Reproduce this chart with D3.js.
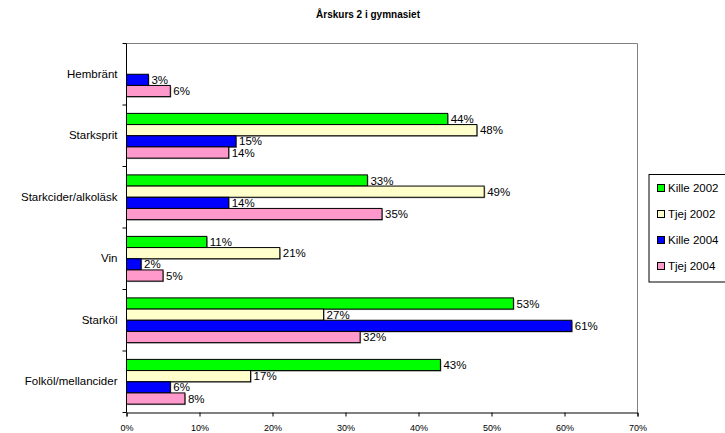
<!DOCTYPE html>
<html>
<head>
<meta charset="utf-8">
<script src="https://cdn.jsdelivr.net/npm/d3@7"></script>
<style>
  body { margin: 0; background: #fff; }
  svg { display: block; font-family: Arial, "Liberation Sans", sans-serif; }
</style>
</head>
<body>
<svg id="chart" width="725" height="433"></svg>
<script>
const title = "Årskurs 2 i gymnasiet";
const categories = ["Hembränt", "Starksprit", "Starkcider/alkoläsk", "Vin", "Starköl", "Folköl/mellancider"];
const seriesNames = ["Kille 2002", "Tjej 2002", "Kille 2004", "Tjej 2004"];
const seriesColors = ["#00FF00", "#FFFFCC", "#0000FF", "#FF99CC"];
// values in percent, per category (null = no bar)
const kille2002 = [null, 44, 33, 11, 53, 43];
const tjej2002  = [null, 48, 49, 21, 27, 17];
const kille2004 = [3, 15, 14, 2, 61, 6];
const tjej2004  = [6, 14, 35, 5, 32, 8];
const xTicks = [0, 10, 20, 30, 40, 50, 60, 70];

const series = [kille2002, tjej2002, kille2004, tjej2004];

const svg = d3.select("#chart");
const pLeft = 126.5, pRight = 637.5, pTop = 43.5, pBottom = 412.5;

const x = d3.scaleLinear().domain([0, 70]).range([pLeft, pRight]);
const y = d3.scaleBand().domain(categories).range([pTop, pBottom]).padding(0);
const bw = y.bandwidth() / 5.5;
const yi = d3.scaleBand().domain(seriesNames).range([0.75 * bw, 4.75 * bw]).padding(0);

// title
svg.append("text")
  .attr("x", 368).attr("y", 18)
  .attr("text-anchor", "middle")
  .attr("font-size", "10px").attr("font-weight", "bold")
  .text(title);

// plot area border (top, right)
svg.append("path")
  .attr("d", `M${pLeft},${pTop}H${pRight}V${pBottom}`)
  .attr("fill", "none").attr("stroke", "#808080").attr("stroke-width", 1);

// bars
const rows = [];
categories.forEach((c, ci) => {
  series.forEach((s, si) => {
    if (s[ci] != null) rows.push({ cat: c, name: seriesNames[si], color: seriesColors[si], v: s[ci] });
  });
});

const g = svg.append("g");
// shadows
g.selectAll("rect.sh").data(rows).enter().append("rect")
  .attr("class", "sh")
  .attr("x", x(0) + 1)
  .attr("y", d => y(d.cat) + yi(d.name) + 1)
  .attr("width", d => x(d.v) - x(0))
  .attr("height", yi.bandwidth())
  .attr("fill", "#9a9a9a");
g.selectAll("rect.bar").data(rows).enter().append("rect")
  .attr("class", "bar")
  .attr("x", x(0))
  .attr("y", d => y(d.cat) + yi(d.name))
  .attr("width", d => x(d.v) - x(0))
  .attr("height", yi.bandwidth())
  .attr("fill", d => d.color)
  .attr("stroke", "#000").attr("stroke-width", 1);

g.selectAll("text.lbl").data(rows).enter().append("text")
  .attr("class", "lbl")
  .attr("x", d => x(d.v) + 3)
  .attr("y", d => y(d.cat) + yi(d.name) + yi.bandwidth() / 2)
  .attr("dy", "0.36em")
  .attr("font-size", "11.5px").attr("fill", "#000")
  .text(d => d.v + "%");

// x axis
const xAxis = d3.axisBottom(x).tickValues(xTicks).tickFormat(d => d + "%").tickSize(4).tickPadding(8);
const xg = svg.append("g").attr("transform", `translate(0,${pBottom})`).call(xAxis);
xg.select(".domain").attr("stroke", "#000");
xg.selectAll("text").attr("font-size", "9px").attr("font-family", "Arial, 'Liberation Sans', sans-serif");

// y axis
const yAxis = d3.axisLeft(y).tickSize(0).tickPadding(9);
const yg = svg.append("g").attr("transform", `translate(${pLeft},0)`).call(yAxis);
yg.select(".domain").attr("stroke", "#000").attr("d", `M0,${pTop}V${pBottom}`);
yg.selectAll("text").attr("font-size", "11.5px").attr("font-family", "Arial, 'Liberation Sans', sans-serif");
// category separator ticks (at every band boundary, including ends)
const bounds = categories.map(c => y(c)).concat([pBottom]);
yg.selectAll("line.sep").data(bounds).enter().append("line")
  .attr("class", "sep")
  .attr("x1", -4).attr("x2", 0)
  .attr("y1", d => d).attr("y2", d => d)
  .attr("stroke", "#000");

// legend
const lg = svg.append("g");
lg.append("rect").attr("x", 649).attr("y", 174.5).attr("width", 80).attr("height", 107.5)
  .attr("fill", "#fff").attr("stroke", "#000");
const li = lg.selectAll("g.li").data(seriesNames).enter().append("g")
  .attr("transform", (d, i) => `translate(0,${188 + i * 26})`);
li.append("rect").attr("x", 657.5).attr("y", -3.5).attr("width", 7).attr("height", 7)
  .attr("fill", (d, i) => seriesColors[i]).attr("stroke", "#000");
li.append("text").attr("x", 668).attr("y", 0).attr("dy", "0.36em")
  .attr("font-size", "11.5px").text(d => d);
</script>
</body>
</html>
